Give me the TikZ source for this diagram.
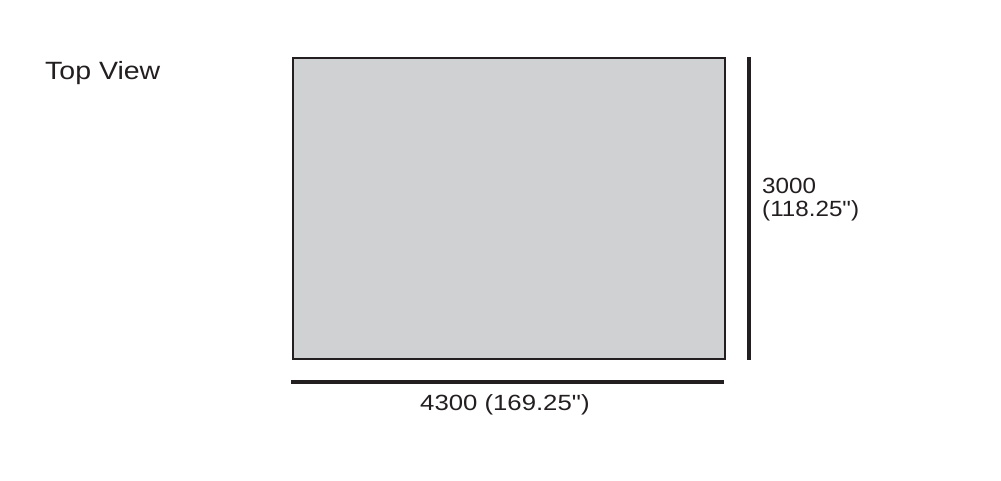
\documentclass[tikz,border=0pt]{standalone}
\usepackage{fontspec}
\setmainfont{Liberation Sans}
\definecolor{platefill}{HTML}{D0D1D3}
\definecolor{inkc}{HTML}{231F20}
\begin{document}
\begin{tikzpicture}[x=1pt,y=-1pt,
  lbl/.style={anchor=base west, inner sep=0pt, text=inkc},
  dimline/.style={line width=4pt, draw=inkc},
  plate/.style={draw=inkc, fill=platefill, line width=1.7pt, anchor=north west, inner sep=0pt}]
\useasboundingbox (0,0) rectangle (1001,481);
\node[plate, minimum width=432pt, minimum height=301pt] (top) at (292,57) {};
\coordinate (vt) at (749,57);
\coordinate (vb) at (749,360);
\draw[dimline] (vt) -- (vb);
\coordinate (hl) at (291,382);
\coordinate (hr) at (724,382);
\draw[dimline] (hl) -- (hr);
\node[lbl] (title) at (45,80) {\fontsize{25}{30}\selectfont\scalebox{1.14}[1]{Top View}};
\node[lbl] (hdim) at (762,194) {\fontsize{22}{23}\selectfont\scalebox{1.1}[1]{\begin{tabular}[t]{@{}l@{}}3000\\(118.25\textquotedbl)\end{tabular}}};
\node[lbl] (wdim) at (420,410) {\fontsize{22}{26}\selectfont\scalebox{1.17}[1]{4300 (169.25\textquotedbl)}};
\end{tikzpicture}
\end{document}
